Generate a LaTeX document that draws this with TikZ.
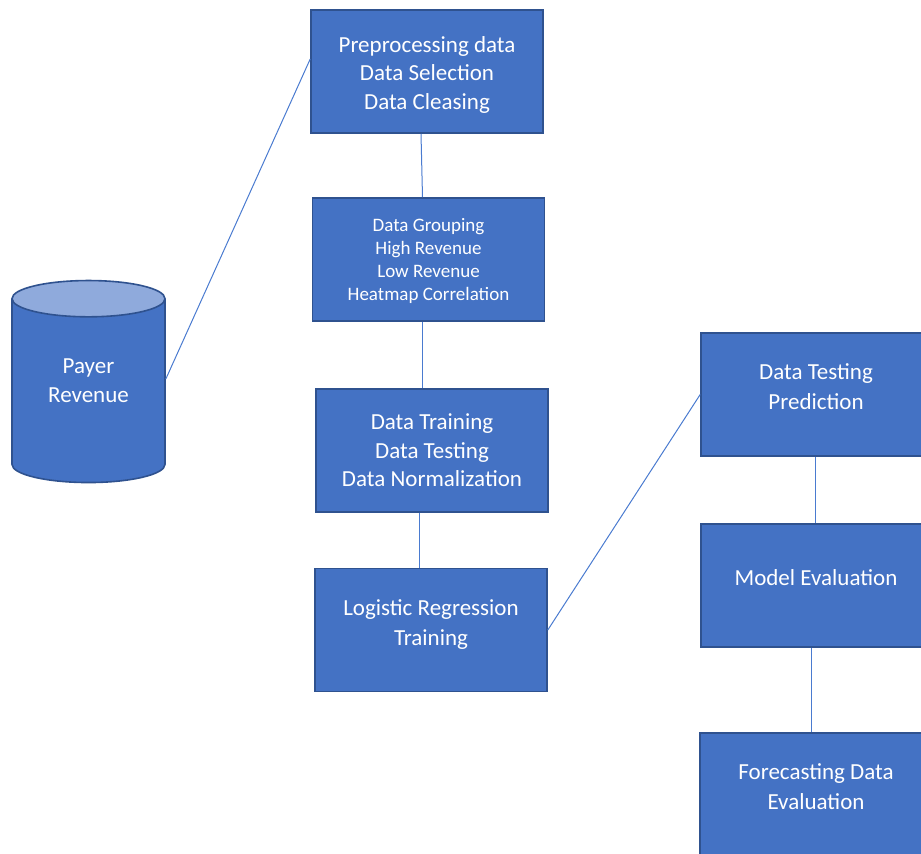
\documentclass[tikz,border=0pt]{standalone}
\usepackage{fontspec}
\setmainfont{Carlito}
\usetikzlibrary{calc}
\usetikzlibrary{shapes.geometric}

\definecolor{boxblue}{HTML}{4472C4}
\definecolor{boxedge}{HTML}{2F528F}
\definecolor{lidblue}{HTML}{8FAADC}
\definecolor{lineblue}{HTML}{4A7BD0}

\begin{document}
\begin{tikzpicture}[x=1pt,y=-1pt,
    stepbox/.style={draw=boxedge,line width=1.6pt,fill=boxblue,text=white,
        align=center,inner sep=0pt,minimum width=232pt,minimum height=123pt,
        font=\fontsize{23}{28.5}\selectfont},
    textup/.style={text depth=15pt,font=\fontsize{23}{30}\selectfont},
    linkline/.style={lineblue,line width=1pt}]
\useasboundingbox (0,0) rectangle (921,854);

\coordinate (p) at (427,71.5);
\coordinate (g) at (428.5,259.5);
\coordinate (t) at (432,450.5);
\coordinate (l) at (431,630);
\coordinate (d) at (816,394.5);
\coordinate (m) at (816,585.5);
\coordinate (f) at (816,794.5);
\coordinate (c) at (88.5,391);

\newcommand{\link}[2]{
    \draw[linkline] (#1)--(#2);
}

% source
\node[cylinder,shape border rotate=90,aspect=0.45,draw=boxedge,line width=1.6pt,
    cylinder uses custom fill,cylinder body fill=boxblue,cylinder end fill=lidblue,
    minimum height=202pt,minimum width=153pt,inner sep=0pt,text=white,align=center,
    text depth=20pt,font=\fontsize{23}{29}\selectfont] (pay) at (c) {Payer\\Revenue};

% left column
\node[stepbox,text height=79pt] (prep) at (p) {Preprocessing data\\Data Selection\\Data Cleasing};
\node[stepbox,font=\fontsize{19}{23}\selectfont,text height=86pt] (grp) at (g) {Data Grouping\\High Revenue\\Low Revenue\\Heatmap Correlation};
\node[stepbox] (train) at (t) {Data Training\\Data Testing\\Data Normalization};
\node[stepbox,textup] (logit) at (l) {Logistic Regression\\Training};

% right column
\node[stepbox,textup,minimum width=230pt] (pred) at (d) {Data Testing\\Prediction};
\node[stepbox,textup,minimum width=230pt] (eval) at (m) {Model Evaluation};
\node[stepbox,textup] (fcast) at (f) {Forecasting Data\\Evaluation};

\link{$(pay.east)+(0,-12)$}{$(prep.north west)!0.4!(prep.south west)$}
\link{[xshift=-6pt]prep.south}{[xshift=-6pt]grp.north}
\link{[xshift=-6.5pt]grp.south}{[xshift=-10pt]train.north}
\link{[xshift=-13pt]train.south}{[xshift=-12pt]logit.north}
\link{logit.east}{pred.west}
\link{[xshift=-1pt]pred.south}{[xshift=-1pt]eval.north}
\link{[xshift=-5pt]eval.south}{[xshift=-5pt]fcast.north}
\end{tikzpicture}
\end{document}
